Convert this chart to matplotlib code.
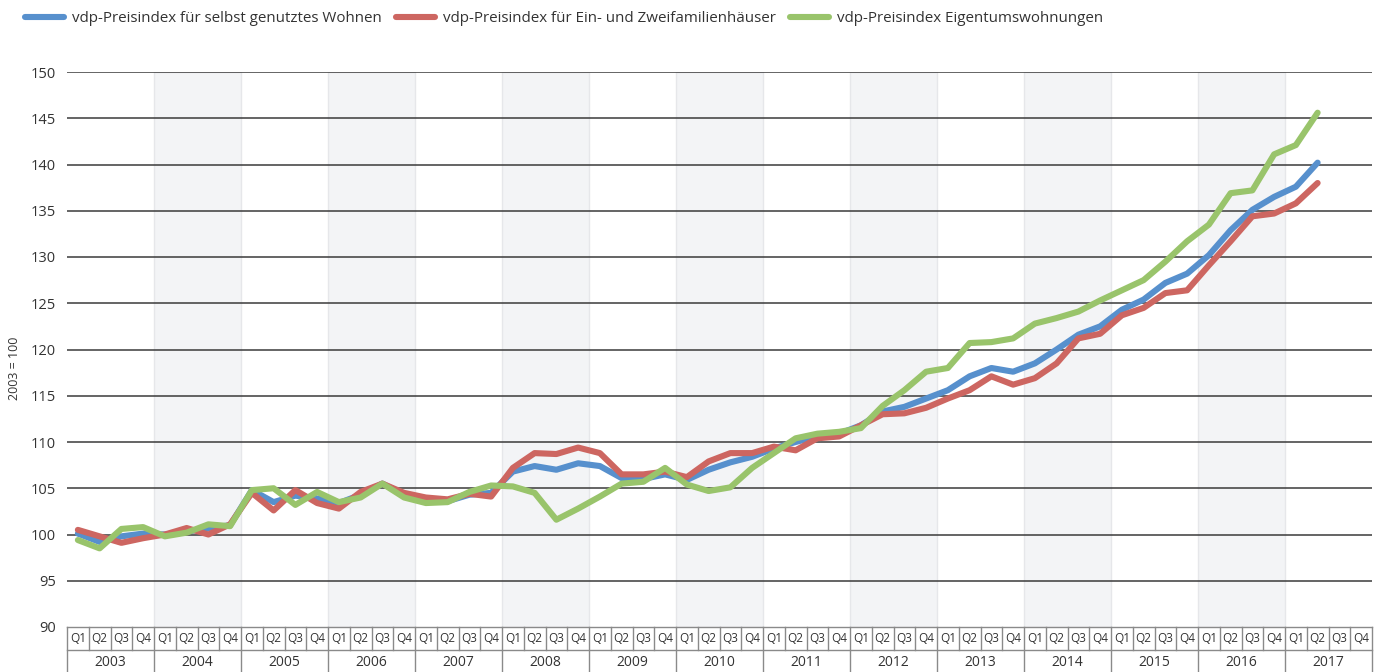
import matplotlib
matplotlib.use("Agg")
import matplotlib.pyplot as plt
import numpy as np

# ------------------------------------------------------------------
# data (2003 = 100, quarterly)
# ------------------------------------------------------------------
years = [str(y) for y in range(2003, 2018)]
quarters = ["Q1", "Q2", "Q3", "Q4"]

wohnen = [100.1, 99.2, 99.8, 100.1, 100.0, 100.3, 100.7, 101.0,
          104.8, 103.5, 104.2, 103.9, 103.4, 104.3, 105.5, 104.3,
          103.7, 103.6, 104.3, 104.5, 106.8, 107.4, 107.0, 107.7,
          107.4, 106.1, 106.0, 106.5, 105.9, 107.0, 107.8, 108.4,
          109.3, 110.0, 110.6, 110.9, 111.8, 113.3, 113.8, 114.7,
          115.6, 117.1, 118.0, 117.6, 118.5, 120.0, 121.6, 122.5,
          124.3, 125.4, 127.2, 128.2, 130.2, 132.9, 135.1, 136.5,
          137.6, 140.2]

efh = [100.5, 99.8, 99.1, 99.6, 100.0, 100.7, 100.0, 101.1,
       104.5, 102.6, 104.8, 103.4, 102.8, 104.6, 105.5, 104.5,
       104.0, 103.8, 104.4, 104.1, 107.2, 108.8, 108.7, 109.4,
       108.8, 106.5, 106.5, 106.8, 106.2, 107.9, 108.8, 108.8,
       109.5, 109.1, 110.4, 110.6, 111.8, 113.0, 113.1, 113.7,
       114.7, 115.6, 117.1, 116.2, 116.9, 118.5, 121.2, 121.7,
       123.7, 124.5, 126.1, 126.4, 129.1, 131.7, 134.4, 134.7,
       135.8, 138.0]

etw = [99.4, 98.5, 100.6, 100.8, 99.8, 100.2, 101.1, 100.9,
       104.8, 105.0, 103.2, 104.6, 103.5, 104.0, 105.5, 104.0,
       103.4, 103.5, 104.6, 105.3, 105.2, 104.5, 101.6, 102.8,
       104.1, 105.5, 105.7, 107.2, 105.4, 104.7, 105.1, 107.2,
       108.8, 110.4, 110.9, 111.1, 111.5, 113.9, 115.6, 117.6,
       118.0, 120.7, 120.8, 121.2, 122.8, 123.4, 124.1, 125.3,
       126.4, 127.5, 129.5, 131.7, 133.5, 136.9, 137.2, 141.1,
       142.1, 145.6]

labels = ["vdp-Preisindex für selbst genutztes Wohnen",
          "vdp-Preisindex für Ein- und Zweifamilienhäuser",
          "vdp-Preisindex Eigentumswohnungen"]
colors = ["#5790cd", "#cd6661", "#99c46b"]

# ------------------------------------------------------------------
# figure
# ------------------------------------------------------------------
plt.rcParams["font.family"] = ["Open Sans", "DejaVu Sans"]

fig = plt.figure(figsize=(13.84, 6.72), dpi=100)
ax = fig.add_axes([67 / 1384, 1 - 627 / 672, (1372 - 67) / 1384, (627 - 72) / 672])

n_q = len(years) * 4
x = np.arange(len(wohnen))

# alternating year bands
for i in range(1, len(years), 2):
    ax.axvspan(4 * i - 0.5, 4 * i + 3.5, facecolor="#f3f4f6",
               edgecolor="#e6e7ea", linewidth=1, zorder=0)

# horizontal grid
for v in range(95, 151, 5):
    ax.axhline(v, color="#3a3a3a", linewidth=1.1, zorder=1)

for series, c, lab in zip([wohnen, efh, etw], colors, labels):
    ax.plot(x, series, color=c, linewidth=4.4, label=lab,
            solid_capstyle="round", solid_joinstyle="round", zorder=3)

ax.set_xlim(-0.5, n_q - 0.5)
ax.set_ylim(90, 150)
ax.set_yticks(range(90, 151, 5))
ax.tick_params(axis="y", length=0, labelsize=10.5, labelcolor="#333333", pad=8)
ax.set_xticks([])
for s in ax.spines.values():
    s.set_visible(False)
fig.text(15 / 1384, 1 - 368 / 672, "2003 = 100", rotation=90, ha="center",
         va="center", fontsize=9, color="#333333")

# category axis: quarters and years in boxes below the plot
trans = ax.get_xaxis_transform()
row1 = -0.042   # bottom of quarter row (axes fraction)
row2 = -0.081   # bottom of year row
line_kw = dict(color="#8a8a8a", linewidth=1, transform=trans, clip_on=False)
ax.plot([-0.5, n_q - 0.5], [0, 0], **line_kw)
ax.plot([-0.5, n_q - 0.5], [row1, row1], **line_kw)
for k in range(n_q + 1):
    bottom = row2 if k % 4 == 0 else row1
    ax.plot([k - 0.5, k - 0.5], [0, bottom], **line_kw)
for k in range(n_q):
    ax.text(k, row1 / 2, quarters[k % 4], transform=trans, ha="center",
            va="center", fontsize=8.5, color="#333333")
for i, y in enumerate(years):
    ax.text(4 * i + 1.5, (row1 + row2) / 2 - 0.002, y, transform=trans,
            ha="center", va="center", fontsize=10, color="#333333")

fig.legend(loc="upper left", bbox_to_anchor=(0.008, 1.004), ncol=3,
           frameon=False, fontsize=10.9, handlelength=2.6, handletextpad=0.5,
           columnspacing=0.95, labelcolor="#333333")

fig.savefig("out.png", dpi=100)
